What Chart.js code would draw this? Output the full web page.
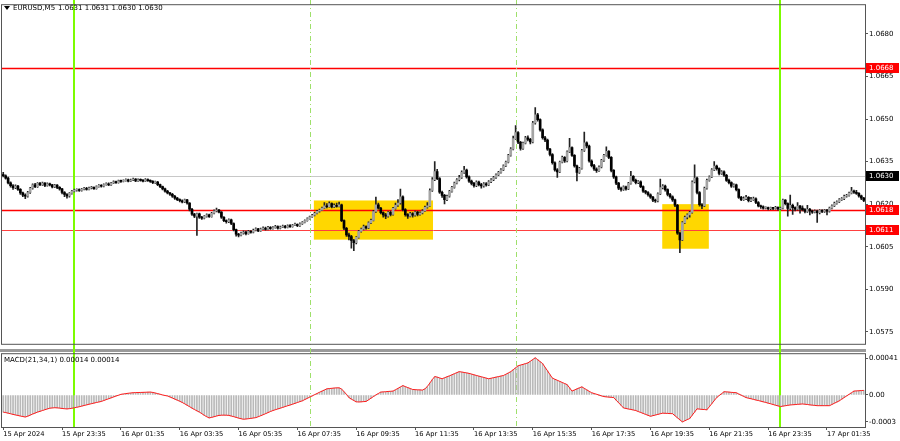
<!DOCTYPE html>
<html>
<head>
<meta charset="utf-8">
<script src="https://cdn.jsdelivr.net/npm/chart.js@4.4.1/dist/chart.umd.min.js"></script>
<style>
  html, body { margin: 0; padding: 0; background: #fff; }
  #wrap { position: relative; width: 900px; height: 441px; overflow: hidden; background: #fff; }
  canvas { position: absolute; left: 0; }
</style>
</head>
<body>
<div id="wrap">
  <canvas id="price" width="900" height="349" style="top:0"></canvas>
  <canvas id="macd" width="900" height="92" style="top:349px"></canvas>
</div>
<script>
// prices are kept as pips above BASE, MACD values in units of 1e-5
const BASE = 1.0600
const firstOpen = 30.4

const closes = [
  30.0,29.2,27.5,26.5, 25.8,26.4,25.2,24.0, 23.2,22.8,24.1,25.6, 26.8,26.2,27.3,26.9, 27.4,26.6,27.2,26.8,
  26.1,26.7,25.9,25.4, 24.1,23.4,22.9,23.8, 24.6,24.9,25.1,24.8, 25.3,25.6,25.2,25.7, 25.9,25.5,26.2,26.6,
  26.3,26.9,27.2,26.8, 27.4,27.9,27.6,28.2,28.0, 28.3,28.6,28.1,28.5, 28.8,28.2,28.6,28.4, 28.1,28.7,28.3,28.0,
  27.6,27.8,26.9,26.2, 25.4,24.6,24.0,23.5, 22.8,22.1,21.6,21.2, 20.8,21.5,20.4,18.2, 16.5,15.8,16.6,15.4,
  15.1,15.7,16.2,15.6, 16.8,17.6,17.9,17.2, 15.4,14.2,13.8,14.5, 13.2,11.0,9.4,9.1,9.8, 10.2,9.6,10.4,10.1,
  10.8,11.3,10.6,11.2, 11.6,11.1,11.8,11.4, 11.7,12.1,11.5,11.9, 12.2,11.8,12.4,12.1, 12.6,12.9,12.4,13.1,
  13.6,14.2,14.9,15.5, 16.1,16.8,17.5,17.9, 18.6,19.4,19.1,20.2, 19.0,19.6,19.2,19.8, 14.2,11.5,9.2,8.6,
  7.2,6.4,8.3,10.4,11.2, 12.1,11.6,13.4,14.3, 17.4,19.8,18.6,17.0, 16.2,15.8,17.1,16.4, 18.5,19.6,20.4,22.6,
  18.1,16.3,15.8,16.7, 16.1,17.2,16.4,16.9, 17.6,18.9,19.4,24.8, 28.6,31.5,29.0,24.2, 23.1,21.6,22.8,24.5,
  25.9,27.4,28.6,29.4, 31.2,32.0,29.6,28.1, 27.3,26.5,27.8,26.9, 26.4,27.2,26.8,27.9,28.6,
  29.4,30.3,31.2,32.1, 33.5,34.8,37.2,39.4, 43.1,45.2,41.8,39.6, 41.5,43.4,42.8,41.9, 48.6,51.5,49.8,46.2,
  43.4,42.6,39.4,37.5, 34.6,32.1,31.4,34.8, 36.5,35.2,38.4,39.9,37.2, 33.5,31.2,32.6,38.9, 41.6,40.5,35.2,33.6,
  32.4,31.8,33.1, 35.4,37.2,38.6,36.5, 31.9,29.6,27.4,25.6,25.2, 26.1,25.4,27.3,29.8, 28.4,27.6,27.9,26.2,
  24.6,24.1,23.3,22.5, 21.4,21.1,23.6,25.8, 26.4,25.1,23.4,22.6, 21.5,19.6,9.8,7.4, 13.5,15.4,16.2,17.1,
  27.8,29.2,24.1,19.8, 19.4,25.6,28.4,29.6, 32.1,33.4,32.5,30.8,31.4, 30.2,28.4,27.6,26.3, 26.8,25.1,22.4,21.6,
  21.9,22.4,21.2,21.6, 21.9,20.6,19.4,19.1, 18.6,18.8,18.4,18.7, 18.5,18.9,18.3,18.6,
  21.4,20.2,18.5,19.6, 18.8,18.2,19.3,18.6, 18.1,17.4,18.2,17.6, 17.2,17.6,17.0,17.8, 17.4,17.9,17.5,18.6,
  19.4,20.3,20.8,21.6, 21.9,22.8,23.1,23.9, 24.6,24.2,23.8,22.9, 22.1,21.3
]

const highs = [
  31.2,30.3,29.5,27.9, 26.9,26.8,26.6,25.5, 24.3,23.6,24.5,25.9, 27.2,27.3,27.6,27.7, 27.8,27.6,27.5,27.4,
  27.0,27.0,26.9,26.2, 25.6,24.4,23.7,24.1, 24.9,25.3,25.4,25.4, 25.6,25.9,25.9,26.0, 26.3,26.1,26.5,26.9,
  26.9,27.2,27.5,27.5, 27.7,28.2,28.1,28.5,28.5, 28.6,28.9,28.8,28.8, 29.2,29.0,28.9,28.9, 28.7,29.0,28.9,28.6,
  28.3,28.1,28.0,27.1, 26.4,25.7,24.9,24.2, 23.8,23.1,22.4,21.9, 21.5,21.8,21.7,20.6, 18.5,16.8,16.9,16.9,
  15.7,16.0,16.6,16.5, 17.1,18.0,18.6,18.2, 17.4,15.6,14.5,14.8, 14.7,13.4,11.2,9.7,10.2, 10.6,10.5,10.8,10.7,
  11.2,11.7,11.5,11.6, 12.0,11.9,12.2,12.1, 12.1,12.5,12.4,12.3, 12.6,12.5,12.7,12.8, 12.9,13.3,13.1,13.4,
  13.9,14.5,15.2,15.8, 16.4,17.1,17.8,18.3, 19.0,20.6,20.2,20.8, 20.5,20.1,20.4,20.7, 20.0,14.5,11.8,9.8,
  9.0,7.6,8.6,10.8,11.6, 12.6,12.4,13.8,14.7, 17.8,22.5,20.4,18.9, 17.3,16.8,17.4,17.6, 18.9,20.4,21.6,25.3,
  22.9,18.4,16.7,17.1, 17.0,17.6,17.5,17.3, 18.1,19.3,20.6,25.4, 29.4,35.0,32.3,29.4, 24.6,23.5,23.2,24.9,
  26.3,27.8,29.0,30.2, 31.7,33.3,32.4,30.0, 28.5,27.7,28.2,28.1, 27.3,27.6,27.6,28.3,29.0,
  29.8,30.7,31.6,32.5, 33.9,35.2,37.6,39.9, 44.0,47.7,45.6,42.1, 41.9,43.9,44.1,43.2, 49.2,54.0,52.0,50.1,
  46.5,43.9,42.9,39.7, 37.8,34.9,32.5,35.2, 36.9,36.8,38.8,43.2,40.2, 37.5,33.8,33.0,39.3, 45.4,42.0,40.8,35.6,
  34.0,32.8,33.5, 35.8,37.6,40.2,38.9, 36.8,32.2,29.9,27.7,26.0, 26.5,26.4,27.7,31.6, 30.1,28.8,28.3,28.2,
  26.5,24.9,24.4,23.6, 22.8,21.8,24.0,28.8, 26.9,26.7,25.4,23.8, 22.9,21.8,19.9,10.2, 13.9,15.8,16.6,17.5,
  28.2,33.9,29.5,24.4, 20.2,26.0,28.8,30.0, 32.5,35.0,33.8,32.8,31.8, 31.7,30.5,28.8,27.9, 27.2,27.1,25.4,22.8,
  22.6,23.1,22.7,22.4, 22.5,22.2,20.9,19.7, 19.4,19.1,19.0,19.0, 18.9,19.2,19.1,19.0,
  21.8,21.6,20.5,23.2, 20.0,19.1,20.6,19.6, 19.4,18.4,19.6,18.5, 17.9,18.0,17.9,18.1, 18.1,18.2,18.2,19.0,
  19.8,20.7,21.2,22.0, 22.3,23.2,23.5,24.3, 25.9,25.0,24.9,24.1, 23.2,22.4
]

const lows = [
  29.6,28.8,27.1,26.0, 25.2,25.5,24.8,23.4, 22.6,21.9,22.5,23.8, 25.3,25.8,25.9,26.5, 26.6,26.2,26.3,26.4,
  25.7,25.8,25.5,24.9, 23.6,22.6,22.1,22.5, 23.5,24.3,24.6,24.5, 24.6,25.0,24.9,25.0, 25.4,25.2,25.3,26.0,
  26.0,26.1,26.7,26.5, 26.6,27.2,27.3,27.4,27.7, 27.8,28.1,27.8,27.9, 28.3,27.9,28.0,28.1, 27.8,27.9,28.0,27.7,
  27.2,27.3,26.5,25.8, 25.0,24.2,23.6,23.1, 22.4,21.7,21.2,20.8, 20.4,20.5,20.0,17.6, 16.0,15.2,9.0,15.0,
  14.6,14.8,15.4,15.3, 15.4,16.6,17.3,16.9, 15.0,13.8,13.3,13.5, 12.8,10.6,8.7,8.5,8.8, 9.4,9.2,9.4,9.8,
  9.9,10.6,10.3,10.4, 11.0,10.8,10.9,11.1, 11.2,11.5,11.2,11.3, 11.7,11.5,11.6,11.8, 11.9,12.4,12.1,12.2,
  12.9,13.4,14.0,14.7, 15.3,15.9,16.6,17.2, 17.7,18.4,18.7,18.9, 18.7,18.8,18.9,19.0, 13.8,11.0,8.6,7.4,
  4.5,3.6,6.0,8.0,10.1, 10.9,11.2,11.4,13.1, 14.1,17.1,18.2,16.6, 15.4,14.9,15.4,15.9, 16.1,18.2,19.2,20.0,
  17.6,15.8,15.0,15.5, 15.4,15.8,15.9,16.1, 16.6,17.4,18.6,19.2, 24.5,28.3,28.6,23.8, 22.4,20.1,21.2,22.5,
  24.2,25.6,27.1,28.2, 29.1,30.8,29.2,27.7, 26.8,26.0,26.2,26.4, 25.6,26.0,26.3,26.5,27.6,
  28.3,29.1,30.0,30.9, 31.8,33.2,34.5,36.9, 39.1,42.8,41.3,39.0, 39.3,41.2,42.3,41.2, 41.6,48.2,49.2,45.7,
  42.9,42.0,38.9,37.0, 34.1,31.6,29.4,31.1, 34.5,34.7,34.9,38.1,36.8, 33.0,28.2,30.8,32.3, 38.6,39.8,34.8,33.1,
  31.9,31.2,31.5, 32.8,35.1,36.9,36.0, 31.4,29.1,26.9,25.1,24.6, 24.8,24.9,25.1,27.0, 28.0,27.1,27.2,25.8,
  24.1,23.6,22.8,22.0, 20.9,20.6,20.8,23.3, 25.4,24.6,22.9,22.1, 21.0,19.1,9.3,2.9, 7.1,13.2,14.8,15.4,
  16.8,27.5,23.6,19.3, 18.4,19.1,25.3,28.1, 29.3,31.8,32.0,30.3,30.5, 29.8,28.0,27.1,25.9, 26.0,24.7,22.0,21.2,
  21.3,21.6,20.8,20.9, 21.3,20.2,19.0,18.5, 18.2,18.3,18.0,18.1, 18.1,18.2,17.9,18.0,
  18.3,19.7,15.8,18.1, 16.4,17.6,17.9,16.8, 17.6,16.9,17.1,16.2, 16.7,16.9,13.6,16.6, 17.0,17.1,16.2,17.2,
  18.3,19.1,20.0,20.5, 21.3,21.6,22.5,22.8, 23.6,23.8,23.4,22.5, 21.6,20.9
]

const macdVals = [
  -19.0,-19.6,-20.2,-20.9,-21.6, -22.2,-22.8,-23.4,-24.0,-24.5, -23.6,-22.4,-21.2,-20.1,-19.0, -18.2,-17.3,-16.4,-15.5,-14.7,
  -14.4,-14.2,-14.3,-14.6,-15.0,-15.3,-15.5, -15.2,-14.8,-14.2,-13.7,
  -13.1,-12.4,-11.7,-11.0,-10.3,-9.7,-9.0,-8.4,-7.8,-7.2, -6.2,-5.2,-4.2,-3.2,-2.2,-1.2,-0.3,0.7,
  1.1,1.5,1.9,2.2,2.5, 2.6,2.7,2.8,2.9,3.0,3.1,3.2, 2.8,2.2,1.5,0.8,0.0,-0.6,-1.1,
  -2.2,-3.4,-4.6,-5.8,-7.0,-8.3, -9.8,-11.4,-13.0,-14.6,-16.2,-17.6,-19.0, -20.8,-22.6,-24.2,-25.5,
  -24.9,-24.2,-23.4,-22.7, -22.5,-22.4,-22.5,-22.7, -23.4,-24.1,-24.9,-25.7,-26.4,-27.0, -26.7,-26.4,-26.0,-25.6,-25.2,
  -24.2,-23.1,-22.0,-20.8,-19.6,-18.4,-17.3, -16.4,-15.5,-14.7,-13.8,-12.9,-12.0,-11.2,
  -10.3,-9.3,-8.4,-7.4,-6.5, -5.1,-3.8,-2.4,-1.1, 0.3,1.6,3.0,4.2,5.5,6.8, 7.1,7.4,7.7,7.9,7.9,
  6.5,3.8,0.6,-2.9, -4.6,-6.2,-7.6, -7.8,-7.6,-7.4,-7.2, -5.4,-3.6,-1.8,0.0,1.6,3.2, 3.4,3.6,3.9,4.1,4.3,
  5.8,7.3,8.9,10.4, 9.3,8.2,7.2,6.1, 5.9,5.7,5.6,5.4, 6.8,9.4,13.2,17.0,20.5, 19.8,18.9,18.0, 19.1,20.2,21.2,
  22.4,23.6,24.8,25.9, 25.5,25.0,24.5,24.0, 23.2,22.4,21.7,20.9,20.2,19.5,18.7,18.0,
  18.6,19.2,19.8,20.4,21.0,21.6, 23.0,24.4,25.9, 28.0,30.2,32.4, 33.2,34.0,34.8,35.6, 37.5,39.4,41.3, 39.2,37.0,34.9,
  30.8,26.8,22.7,18.7, 17.5,16.3,15.1,13.9,12.7,11.5, 7.9,4.3, 5.5,6.7,7.9,9.0, 7.4,5.7,4.1,2.5,
  1.6,0.8,-0.1,-1.0,-1.8, -2.1,-2.4,-2.6,-2.9, -5.8,-8.6,-11.5,-14.4, -15.0,-15.6,-16.1,-16.7,-17.3,
  -18.4,-19.4,-20.5,-21.6,-22.6,-23.7, -23.0,-22.3,-21.6,-20.9,-20.2, -20.4,-20.5,-20.7,-20.8,
  -23.1,-25.4,-27.6,-29.9, -28.7,-27.4,-26.2, -22.6,-19.0,-15.4, -15.7,-16.0,-16.2,-16.5,
  -13.1,-9.7,-6.3,-2.9, -0.7,1.4,3.6, 3.4,3.2,2.9,2.7,2.5, 1.1,-0.2,-1.6,-2.9,
  -3.6,-4.2,-4.9,-5.6,-6.2,-6.9,-7.6,-8.3, -9.1,-9.8,-10.6,-11.4,-12.1,-12.9, -12.4,-12.0,-11.5,-11.1,
  -10.9,-10.7,-10.4,-10.2,-10.0, -10.3,-10.6,-11.0,-11.3,-11.6,-11.9, -11.9,-11.9,-11.9,-11.9,-11.9,
  -10.6,-9.2,-7.9,-6.5, -4.7,-2.9,-1.1,0.7,2.5,4.3, 4.5,4.7,4.9,5.1
]

const timeTicks = ['15 Apr 2024', '15 Apr 23:35', '16 Apr 01:35', '16 Apr 03:35', '16 Apr 05:35',
  '16 Apr 07:35', '16 Apr 09:35', '16 Apr 11:35', '16 Apr 13:35', '16 Apr 15:35', '16 Apr 17:35',
  '16 Apr 19:35', '16 Apr 21:35', '16 Apr 23:35', '17 Apr 01:35']
const barsPerTick = 24

const priceTicks = [1.0575, 1.0590, 1.0605, 1.0620, 1.0635, 1.0650, 1.0665, 1.0680]
const macdTicks = [0.00041, 0, -0.0003]
const macdTickLabels = ['0.00041', '0.00', '-0.0003']

const levels = [1.0668, 1.0618, 1.0611]
const bidPrice = 1.0630
const dayStarts = [29, 317]
const sessionOpens = [125, 209]
const zones = [
  { from: 126.7, to: 175.3, hi: 21.3, lo: 7.5 },
  { from: 268.8, to: 287.8, hi: 20.0, lo: 4.3 },
]
const header = ['EURUSD,M5', '1.0631 1.0631 1.0630 1.0630']
const macdHeader = 'MACD(21,34,1) 0.00014 0.00014'

const FONT = "'DejaVu Sans', sans-serif"
Chart.defaults.font.family = FONT
Chart.defaults.color = '#000'

const px = v => BASE + v / 10000
const idx = closes.map((_, i) => i)
const opens = closes.map((c, i) => i === 0 ? firstOpen : closes[i - 1])

function drawVLines(chart, y0, y1) {
  const { ctx, scales: { x } } = chart
  ctx.save()
  ctx.strokeStyle = '#7cfc00'
  ctx.lineWidth = 2
  dayStarts.forEach(i => {
    const xp = Math.round(x.getPixelForValue(i))
    ctx.beginPath(); ctx.moveTo(xp, y0); ctx.lineTo(xp, y1); ctx.stroke()
  })
  ctx.strokeStyle = '#9ee06a'
  ctx.lineWidth = 1
  ctx.setLineDash([5, 3, 1, 3])
  sessionOpens.forEach(i => {
    const xp = Math.round(x.getPixelForValue(i)) + 0.5
    ctx.beginPath(); ctx.moveTo(xp, y0); ctx.lineTo(xp, y1); ctx.stroke()
  })
  ctx.restore()
}

const priceObjects = {
  id: 'priceObjects',
  beforeDatasetsDraw(chart) {
    const { ctx, chartArea: a, scales: { x, y } } = chart
    ctx.save()
    ctx.beginPath(); ctx.rect(a.left, a.top, a.right - a.left, a.bottom - a.top); ctx.clip()
    ctx.fillStyle = '#ffd700'
    zones.forEach(z => {
      const x0 = x.getPixelForValue(z.from), x1 = x.getPixelForValue(z.to)
      const y0 = y.getPixelForValue(px(z.hi)), y1 = y.getPixelForValue(px(z.lo))
      ctx.fillRect(x0, y0, x1 - x0, y1 - y0)
    })
    ctx.strokeStyle = '#c8c8c8'; ctx.lineWidth = 1
    const yp = Math.round(y.getPixelForValue(bidPrice)) + 0.5
    ctx.beginPath(); ctx.moveTo(a.left, yp); ctx.lineTo(a.right, yp); ctx.stroke()
    levels.forEach((lv, k) => {
      ctx.strokeStyle = k === 2 ? '#ff4040' : '#ff0000'
      ctx.lineWidth = k === 2 ? 1 : 1.6
      const yy = Math.round(y.getPixelForValue(lv)) + 0.5
      ctx.beginPath(); ctx.moveTo(a.left, yy); ctx.lineTo(a.right, yy); ctx.stroke()
    })
    ctx.restore()
    drawVLines(chart, 0, chart.height)
  },
  afterDraw(chart) {
    const { ctx, chartArea: a, scales: { y } } = chart
    ctx.save()
    ctx.strokeStyle = '#555'; ctx.lineWidth = 1
    ctx.strokeRect(a.left - 0.5, a.top - 0.5, a.right - a.left + 1, a.bottom - a.top + 1)
    // header
    ctx.fillStyle = '#000'
    ctx.beginPath(); ctx.moveTo(4, 6); ctx.lineTo(10, 6); ctx.lineTo(7, 10); ctx.closePath(); ctx.fill()
    ctx.font = '7px ' + FONT
    ctx.textBaseline = 'middle'
    ctx.fillText(header[0], 13, 8)
    ctx.fillText(header[1], 58, 8)
    // price labels on the axis
    const tag = (price, color) => {
      const yc = Math.round(y.getPixelForValue(price))
      ctx.fillStyle = color
      ctx.fillRect(a.right + 1, yc - 5, 33, 10)
      ctx.fillStyle = '#fff'
      ctx.fillText(price.toFixed(4), a.right + 4, yc + 0.5)
    }
    levels.forEach(lv => tag(lv, '#ff0000'))
    tag(bidPrice, '#000')
    ctx.restore()
  }
}

const macdObjects = {
  id: 'macdObjects',
  beforeDatasetsDraw(chart) {
    const { ctx, chartArea: a } = chart
    ctx.save()
    ctx.fillStyle = '#9a9a9a'
    ctx.fillRect(0, 0, a.right + 1, 3)
    ctx.restore()
    drawVLines(chart, 0, a.bottom)
  },
  afterDraw(chart) {
    const { ctx, chartArea: a } = chart
    ctx.save()
    ctx.strokeStyle = '#555'; ctx.lineWidth = 1
    ctx.strokeRect(a.left - 0.5, a.top - 0.5, a.right - a.left + 1, a.bottom - a.top + 1)
    ctx.fillStyle = '#000'
    ctx.font = '7px ' + FONT
    ctx.textBaseline = 'middle'
    ctx.fillText(macdHeader, 4, a.top + 5.5)
    ctx.restore()
  }
}

new Chart(document.getElementById('price'), {
  type: 'bar',
  data: {
    labels: idx,
    datasets: [
      {
        data: idx.map(i => [px(Math.min(opens[i], closes[i])), px(Math.max(opens[i], closes[i]))]),
        backgroundColor: idx.map(i => closes[i] >= opens[i] ? '#a4a4a4' : '#000'),
        barThickness: 2, minBarLength: 1, grouped: false, order: 0,
      },
      {
        data: idx.map(i => [px(lows[i]), px(highs[i])]),
        backgroundColor: '#222',
        barThickness: 1, grouped: false, order: 1,
      },
    ],
  },
  options: {
    responsive: false, animation: false, devicePixelRatio: 1,
    layout: { padding: { left: 2, top: 2, bottom: 1, right: 0 } },
    scales: {
      x: { display: false, offset: true },
      y: {
        position: 'right',
        min: 1.05708, max: 1.06901,
        afterFit: s => { s.width = 35 },
        afterBuildTicks: s => { s.ticks = priceTicks.map(v => ({ value: v })) },
        ticks: { callback: v => v.toFixed(4), font: { size: 7 }, padding: 1, color: '#000' },
        grid: { drawOnChartArea: false, tickLength: 3, color: '#555' },
        border: { color: '#555' },
      },
    },
    plugins: { legend: { display: false }, tooltip: { enabled: false } },
  },
  plugins: [priceObjects],
})

new Chart(document.getElementById('macd'), {
  type: 'bar',
  data: {
    labels: idx,
    datasets: [
      {
        type: 'line',
        data: macdVals.map(v => v / 100000),
        borderColor: '#ff1a1a', borderWidth: 1, pointRadius: 0, tension: 0, order: 0,
      },
      {
        data: macdVals.map(v => v / 100000),
        backgroundColor: '#b9b9b9',
        barThickness: 1, grouped: false, order: 1,
      },
    ],
  },
  options: {
    responsive: false, animation: false, devicePixelRatio: 1,
    layout: { padding: { left: 2, top: 3, bottom: 0, right: 0 } },
    scales: {
      x: {
        offset: true,
        afterFit: s => { s.height = 14 },
        ticks: {
          autoSkip: false, maxRotation: 0, align: 'start', padding: 0,
          font: { size: 6.7 }, color: '#000',
          callback: (v, i) => i % barsPerTick === 0 ? timeTicks[i / barsPerTick] : null,
        },
        grid: { drawOnChartArea: false, offset: false, tickLength: 3, color: '#555' },
        border: { display: false },
      },
      y: {
        position: 'right',
        min: -0.000356, max: 0.000453,
        afterFit: s => { s.width = 35 },
        afterBuildTicks: s => { s.ticks = macdTicks.map(v => ({ value: v })) },
        ticks: { callback: (v, i) => macdTickLabels[i], font: { size: 7 }, padding: 1, color: '#000' },
        grid: { drawOnChartArea: false, tickLength: 3, color: '#555' },
        border: { color: '#555' },
      },
    },
    plugins: { legend: { display: false }, tooltip: { enabled: false } },
  },
  plugins: [macdObjects],
})
</script>
</body>
</html>
